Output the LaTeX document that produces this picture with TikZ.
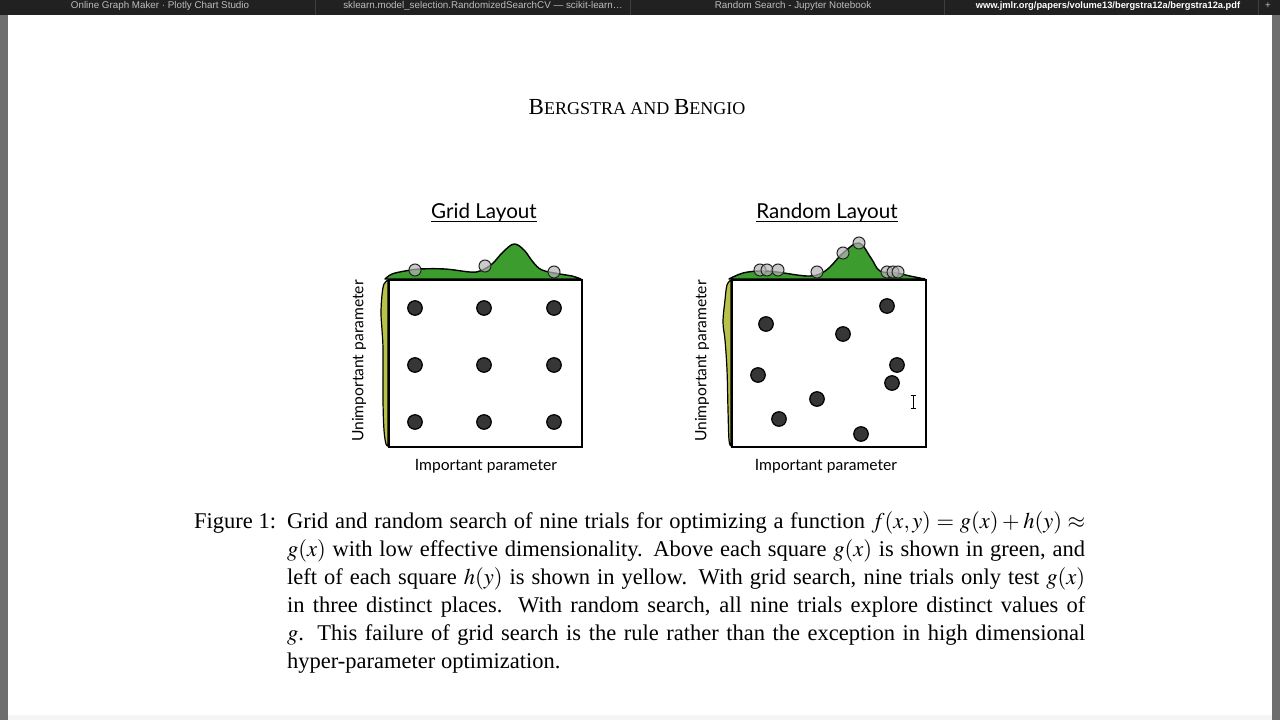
\documentclass[tikz,border=0pt]{standalone}
\usepackage{mathptmx}
\usepackage{fontspec}
\setmainfont{Liberation Serif}
\newfontfamily\plotfont{Lato}
\newfontfamily\uifont{Liberation Sans}

\definecolor{tabbar}{HTML}{212121}
\definecolor{tabline}{HTML}{3E3E3E}
\definecolor{tabtext}{HTML}{BDBDBD}
\definecolor{sidegray}{HTML}{6E6E6E}
\definecolor{gcurve}{HTML}{3C9C2E}
\definecolor{hcurve}{HTML}{B8C24A}
\definecolor{trialdot}{HTML}{363636}
\definecolor{projdot}{HTML}{B4B4B4}

\begin{document}
\begin{tikzpicture}[
  x=1pt, y=-1pt,
  tab/.style={font=\uifont\fontsize{9.8}{10}\selectfont, text=tabtext, inner sep=0pt},
  ptitle/.style={font=\plotfont\fontsize{20.6}{21}\selectfont, inner sep=0pt, anchor=base},
  axlabel/.style={font=\plotfont\fontsize{15.6}{16}\selectfont, inner sep=0pt},
  frame/.style={draw=black, line width=2pt, fill=white, inner sep=0pt, anchor=north west},
  gfill/.style={fill=gcurve, draw=black, line width=1.4pt, line join=round},
  hfill/.style={fill=hcurve, draw=black, line width=1.2pt, line join=round},
  trial/.style={circle, fill=trialdot, draw=black, line width=1.2pt, minimum size=14.5pt, inner sep=0pt},
  proj/.style={circle, fill=projdot, fill opacity=0.7, draw=black!85, line width=1pt, minimum size=12pt, inner sep=0pt}
]

\useasboundingbox (0,0) rectangle (1280,720);

% Window
\fill[white] (0,0) rectangle (1280,720);
\fill[sidegray] (0,15) rectangle (8,720);
\fill[sidegray] (1272,15) rectangle (1280,720);
\fill[black!4] (8,715) rectangle (1272,720);
\fill[tabbar] (0,0) rectangle (1280,15);
\foreach \sx in {315,630,944,1258}
  \draw[tabline] (\sx,0) -- (\sx,15);

% Tabs
\node[tab] (tab1) at (160,6) {Online Graph Maker · Plotly Chart Studio};
\node[tab] (tab2) at (483,6) {sklearn.model\_selection.RandomizedSearchCV — scikit-learn…};
\node[tab] (tab3) at (793,6) {Random Search - Jupyter Notebook};
\node[tab, text=white, font=\uifont\bfseries\fontsize{9.3}{10}\selectfont] (tab4) at (1108,6)
  {www.jmlr.org/papers/volume13/bergstra12a/bergstra12a.pdf};
\node[tab] (newtab) at (1268,6) {+};

% Running head
\node[inner sep=0pt] (head) at (637,107)
  {\fontsize{23}{23}\selectfont B\fontsize{18}{18}\selectfont ERGSTRA AND
   \fontsize{23}{23}\selectfont B\fontsize{18}{18}\selectfont ENGIO};

% Grid layout
\draw[gfill] plot[smooth, tension=0.6] coordinates {(385,279) (392,274) (405,271) (420,269)
  (445,269) (470,272) (480,271) (492,264) (503,252) (514,244) (524,250) (533,262) (542,270)
  (560,274) (572,276) (581,279)} -- cycle;
\draw[hfill] plot[smooth, tension=0.6] coordinates {(388,280) (384,284) (382,295) (381,313)
  (382,330) (383,350) (383,400) (384,430) (386,444) (388,446)} -- cycle;
\node[frame, minimum width=193pt, minimum height=167pt] (gridbox) at (388,279) {};
\foreach \gx in {415,484,554}
  \foreach \gy in {308,365,422}
    \node[trial] (g\gx\gy) at (\gx,\gy) {};
\foreach \px/\py [count=\k] in {415/270, 485/266, 554/272}
  \node[proj] (gp\k) at (\px,\py) {};
\node[ptitle] (gridtitle) at (484,218) {Grid Layout};
\draw[line width=0.9pt] ([yshift=-3.5pt]gridtitle.base west) -- ([yshift=-3.5pt]gridtitle.base east);
\node[axlabel] (gridx) at (486,466) {Important parameter};
\node[axlabel, rotate=90] (gridy) at (359,361) {Unimportant parameter};

% Random layout
\draw[gfill] plot[smooth, tension=0.6] coordinates {(729,279) (743,273) (760,271) (777,272)
  (797,275) (810,276) (820,274) (830,267) (843,253) (859,243) (871,258) (880,271) (897,273)
  (910,276) (925,279)} -- cycle;
\draw[hfill] plot[smooth, tension=0.6] coordinates {(731,280) (727,285) (725,300) (723,322)
  (725,340) (727,370) (728,410) (729,440) (731,446)} -- cycle;
\node[frame, minimum width=194pt, minimum height=167pt] (randbox) at (731,279) {};
\foreach \rx/\ry [count=\k] in {766/324, 843/334, 887/306, 758/375, 897/365, 892/383,
  817/399, 779/419, 861/434}
  \node[trial] (r\k) at (\rx,\ry) {};
\foreach \px/\py [count=\k] in {760/270, 767/270, 778/270, 817/272, 843/253, 859/243,
  887/272, 893/272, 898/272}
  \node[proj] (rp\k) at (\px,\py) {};
\node[ptitle] (randtitle) at (827,218) {Random Layout};
\draw[line width=0.9pt] ([yshift=-3.5pt]randtitle.base west) -- ([yshift=-3.5pt]randtitle.base east);
\node[axlabel] (randx) at (826,466) {Important parameter};
\node[axlabel, rotate=90] (randy) at (702,361) {Unimportant parameter};

% Mouse cursor
\draw[line width=0.8pt] (913,396) -- (913,408)
  (910.5,395.5) -- (915.5,395.5) (910.5,408.5) -- (915.5,408.5);

% Caption
\node[inner sep=0pt, anchor=north west] (caption) at (194,510)
  {\begin{minipage}[t]{891pt}\fontsize{22.5}{28}\selectfont
   \noindent\hangindent=93pt\hangafter=1\hyphenpenalty=10000\rule{0pt}{18pt}%
   \makebox[93pt][l]{Figure 1:}Grid and random search of nine trials for optimizing
   a function $f(x,y)=g(x)+h(y)\approx$\linebreak
   $g(x)$ with low effective dimensionality. Above each square $g(x)$ is shown in green, and\linebreak
   left of each square $h(y)$ is shown in yellow. With grid search, nine trials only test $g(x)$\linebreak
   in three distinct places. With random search, all nine trials explore distinct values of\linebreak
   $g$. This failure of grid search is the rule rather than the exception in high dimensional\linebreak
   hyper-parameter optimization.\par
   \end{minipage}};

\end{tikzpicture}
\end{document}
